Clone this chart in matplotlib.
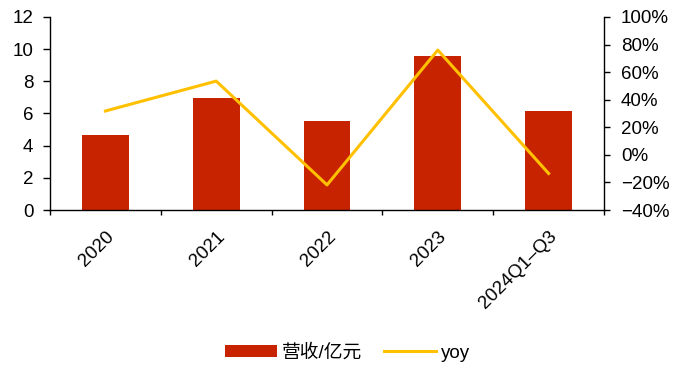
import matplotlib.pyplot as plt
import matplotlib.transforms as mtransforms
from matplotlib.ticker import FuncFormatter, FixedLocator

plt.rcParams['font.family'] = ['Liberation Sans', 'Noto Sans CJK SC', 'DejaVu Sans']

# data
categories = ['2020', '2021', '2022', '2023', '2024Q1\u2013Q3']
revenue = [4.65, 6.97, 5.55, 9.58, 6.15]   # 营收/亿元
yoy = [31.8, 53.5, -21.8, 76.0, -13.5]     # %

bar_color = '#C82300'
line_color = '#FFC000'
fs = 13.5

fig = plt.figure(figsize=(6.79, 3.66), dpi=100)
ax = fig.add_axes([0.0736, 0.4262, 0.816, 0.5274])
x = list(range(len(categories)))
bars = ax.bar(x, revenue, width=0.424, color=bar_color, label='营收/亿元', zorder=2)
ax.set_xlim(-0.5, len(categories) - 0.5)
ax.set_ylim(0, 12)
ax.set_yticks(range(0, 13, 2))

ax2 = ax.twinx()
line, = ax2.plot(x, yoy, color=line_color, lw=2.2, label='yoy', zorder=3)
ax2.set_ylim(-40, 100)
ax2.set_yticks(range(-40, 101, 20))
ax2.yaxis.set_major_formatter(FuncFormatter(lambda v, p: f'{int(v)}%'.replace('-', '\u2212')))

# category boundary ticks on x axis, labels centered under bars
ax.xaxis.set_major_locator(FixedLocator([i - 0.5 for i in range(len(categories) + 1)]))
ax.xaxis.set_minor_locator(FixedLocator(x))
ax.set_xticklabels([])
ax.set_xticklabels(categories, minor=True, rotation=45, ha='right', va='top',
                   rotation_mode='anchor', fontsize=fs)
shift = mtransforms.ScaledTranslation(4.7 / 72, 0, fig.dpi_scale_trans)
for lbl in ax.get_xticklabels(minor=True):
    lbl.set_transform(lbl.get_transform() + shift)
ax.tick_params(axis='x', which='minor', length=0, pad=13)
ax.tick_params(axis='x', which='major', length=3.6, width=1, color='black')

for a in (ax, ax2):
    a.spines['top'].set_visible(False)
    for s in a.spines.values():
        s.set_color('black')
        s.set_linewidth(1)
ax.spines['right'].set_visible(False)
ax2.spines['left'].set_visible(False)
ax2.spines['bottom'].set_visible(False)
ax.tick_params(axis='y', labelsize=fs, length=5, width=1, pad=7)
ax2.tick_params(axis='y', labelsize=fs, length=4, width=1, pad=8.3)

fig.legend([bars, line], ['营收/亿元', 'yoy'], loc='center', bbox_to_anchor=(0.512, 0.036),
           ncol=2, frameon=False, fontsize=fs, handlelength=2.77, handleheight=0.6,
           columnspacing=1.17, handletextpad=0.27)

fig.savefig('out.png', dpi=100)
